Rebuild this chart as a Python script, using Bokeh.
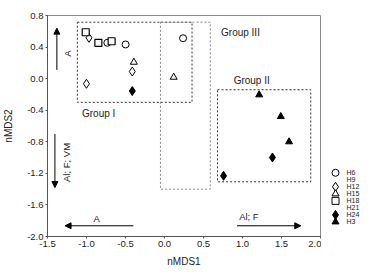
import math
from bokeh.plotting import figure
from bokeh.layouts import row
from bokeh.models import (Range1d, FixedTicker, PrintfTickFormatter, Arrow, NormalHead, Label)
from bokeh.core.properties import value
from bokeh.embed import file_html
from bokeh.resources import INLINE

# ---- data ----
h6_x = [-0.733, -0.499, 0.238]
h6_y = [0.454, 0.433, 0.512]
h9_x = []
h9_y = []
h12_x = [-0.968, -0.413, -1.001]
h12_y = [0.517, 0.090, -0.065]
h15_x = [-0.393, 0.118]
h15_y = [0.208, 0.018]
h18_x = [-1.010, -0.848, -0.678]
h18_y = [0.588, 0.454, 0.474]
h21_x = []
h21_y = []
h24_x = [-0.413, 1.384, 0.757]
h24_y = [-0.157, -0.999, -1.231]
h3_x = [1.214, 1.491, 1.597]
h3_y = [-0.205, -0.480, -0.800]

x_ticks = [-1.5, -1.0, -0.5, 0.0, 0.5, 1.0, 1.5, 2.0]
y_ticks = [0.8, 0.4, 0.0, -0.4, -0.8, -1.2, -1.6, -2.0]

group_names = ["Group I", "Group III", "Group II"]
group_left = [-1.117, -0.052, 0.68]
group_right = [0.353, 0.587, 1.875]
group_top = [0.715, 0.715, -0.14]
group_bottom = [-0.30, -1.40, -1.307]
group_label_x = [-0.844, 0.974, 1.118]
group_label_y = [-0.442, 0.588, -0.024]

arrow_labels = ["A", "Al; F; VM", "A", "Al; F"]
arrow_x0 = [-1.38, -1.405, -0.40, 0.93]
arrow_y0 = [0.11, -0.70, -1.864, -1.864]
arrow_x1 = [-1.38, -1.405, -1.275, 1.747]
arrow_y1 = [0.64, -1.38, -1.864, -1.864]
arrow_label_x = [-1.244, -1.257, -0.87, 1.082]
arrow_label_y = [0.319, -1.062, -1.77, -1.747]
arrow_label_angle = [math.pi / 2, math.pi / 2, 0.0, 0.0]

legend_labels = ["H6", "H9", "H12", "H15", "H18", "H21", "H24", "H3"]
legend_markers = ["circle", None, "diamond", "triangle", "square", None, "diamond", "triangle"]
legend_fills = ["white", None, "white", "white", "white", None, "black", "black"]

FONT = "Liberation Sans"
S = 7

p = figure(width=321, height=274, output_backend="svg", toolbar_location=None,
           x_range=Range1d(-1.5, 2.0), y_range=Range1d(-2.0, 0.8),
           min_border_left=47, min_border_right=1, min_border_top=15, min_border_bottom=38,
           background_fill_color="white", border_fill_color="white")
p.grid.visible = False
p.outline_line_color = "#8a8a8a"
p.outline_line_width = 1

for ax, ticks in ((p.xaxis[0], x_ticks), (p.yaxis[0], y_ticks)):
    ax.ticker = FixedTicker(ticks=ticks, minor_ticks=[])
    ax.formatter = PrintfTickFormatter(format="%.1f")
    ax.major_tick_in = 0
    ax.major_tick_out = 2
    ax.minor_tick_in = 0
    ax.minor_tick_out = 0
    ax.axis_line_color = "#555555"
    ax.major_tick_line_color = "#555555"
    ax.major_label_text_font = FONT
    ax.major_label_text_font_size = "9.5px"
    ax.major_label_text_color = "#222222"
    ax.axis_label_text_font = FONT
    ax.axis_label_text_font_size = "10px"
    ax.axis_label_text_font_style = "normal"
    ax.axis_label_text_color = "#222222"
    ax.major_label_standoff = 2

p.xaxis.axis_label = "nMDS1"
p.yaxis.axis_label = "nMDS2"
p.xaxis.axis_label_standoff = 6
p.yaxis.axis_label_standoff = 10

# group boxes
box_colors = ["#333333", "#888888", "#333333"]
p.quad(left=group_left, right=group_right, top=group_top, bottom=group_bottom,
       fill_alpha=0, line_color=box_colors, line_dash="2 2", line_width=1)
for name, gx, gy in zip(group_names, group_label_x, group_label_y):
    p.add_layout(Label(x=gx, y=gy, text=name, text_align="center", text_baseline="middle",
                       text_font=FONT, text_font_size="10px", text_color="#222222"))

# arrows
for lab, x0, y0, x1, y1, lx, ly, ang in zip(arrow_labels, arrow_x0, arrow_y0, arrow_x1,
                                             arrow_y1, arrow_label_x, arrow_label_y,
                                             arrow_label_angle):
    p.add_layout(Arrow(end=NormalHead(size=6, fill_color="black", line_color="black"),
                       x_start=x0, y_start=y0, x_end=x1, y_end=y1,
                       line_color="black", line_width=1))
    p.add_layout(Label(x=lx, y=ly, text=lab, angle=ang, text_align="center",
                       text_baseline="middle", text_font=FONT, text_font_size="9.5px",
                       text_color="#222222"))

# series
p.scatter(h6_x, h6_y, marker="circle", size=S, fill_color="white", line_color="black", line_width=1)
p.scatter(h12_x, h12_y, marker="diamond", size=S + 2, fill_color="white", line_color="black", line_width=1)
p.scatter(h15_x, h15_y, marker="triangle", size=S, fill_color="white", line_color="black", line_width=1)
p.scatter(h18_x, h18_y, marker="square", size=S, fill_color="white", line_color="black", line_width=1.2)
p.scatter(h24_x, h24_y, marker="diamond", size=S + 2, fill_color="black", line_color="black")
p.scatter(h3_x, h3_y, marker="triangle", size=S, fill_color="black", line_color="black")

# legend panel (rows from top, in pixel-like units)
lg = figure(width=47, height=274, output_backend="svg", toolbar_location=None,
            x_range=Range1d(0, 47), y_range=Range1d(274, 0),
            min_border=0, x_axis_type=None, y_axis_type=None,
            background_fill_color="white", border_fill_color="white")
lg.grid.visible = False
lg.outline_line_color = None
row_y = [195 + 8.7 * i for i in range(len(legend_labels))]
for ry, lab, mk, fc in zip(row_y, legend_labels, legend_markers, legend_fills):
    if mk is not None:
        lg.scatter([14], [ry], marker=mk, size=S + (2 if mk == "diamond" else 0),
                   fill_color=fc, line_color="black", line_width=1)
lg.text(x=[25] * len(legend_labels), y=row_y, text=legend_labels, text_align="left",
        text_baseline="middle", text_font=value(FONT), text_font_size="7px",
        text_color="#222222")

layout = row(p, lg, spacing=0)
open("out.html", "w").write(file_html(layout, INLINE))
